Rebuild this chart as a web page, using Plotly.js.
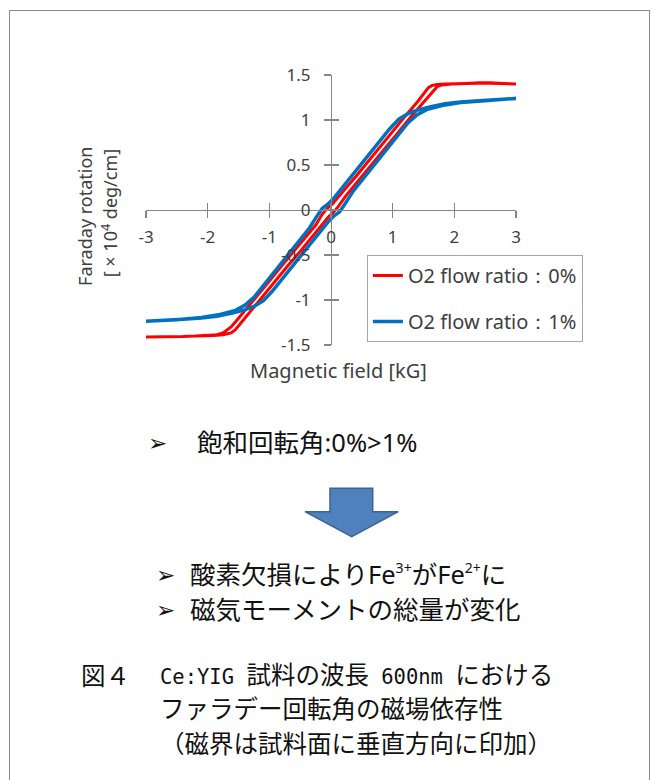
<!DOCTYPE html>
<html><head><meta charset="utf-8">
<script src="https://cdn.plot.ly/plotly-3.0.1.min.js"></script>
<style>
html,body{margin:0;padding:0;background:#fff;}
#wrap{position:relative;width:654px;height:780px;overflow:hidden;background:#fff;}
#chart{position:absolute;left:0;top:0;width:654px;height:780px;}
#over{position:absolute;left:0;top:0;pointer-events:none;}
.t{position:absolute;white-space:nowrap;transform:translateY(-50%);color:#111;font-family:"Noto Sans","Noto Sans CJK JP",sans-serif;line-height:1;}
.cap{font-family:"Noto Sans CJK JP",sans-serif;font-size:24.5px;}
.mono{font-family:"DejaVu Sans Mono","Liberation Mono",monospace;font-size:20.5px;white-space:pre;}
.bul{font-family:"DejaVu Sans",sans-serif;font-size:23px;}
sup{font-size:55%;vertical-align:0.8em;line-height:0;}
</style></head>
<body>
<div id="wrap">
<div id="chart"></div>
<svg id="over" width="654" height="780">
  <rect x="9.5" y="10.5" width="640" height="800" fill="none" stroke="#8a8a8a" stroke-width="1"/>
  <polygon points="330,488.3 372.7,488.3 372.7,511.7 398.3,511.7 351.7,536.7 305,511.7 330,511.7" fill="#4F81BD" stroke="#3B6396" stroke-width="1.5"/>
</svg>
<div class="t bul" style="left:148px;top:443px;">➢</div>
<div class="t" style="left:197px;top:443px;font-size:25.5px;">飽和回転角:0%&gt;1%</div>
<div class="t bul" style="left:156px;top:575px;">➢</div>
<div class="t" style="left:190px;top:575px;font-size:25.5px;">酸素欠損によりFe<sup>3+</sup>がFe<sup>2+</sup>に</div>
<div class="t bul" style="left:156px;top:610px;">➢</div>
<div class="t" style="left:190px;top:610px;font-size:25.5px;">磁気モーメントの総量が変化</div>
<div class="t cap" style="left:81px;top:675px;">図４</div>
<div class="t cap" style="left:160px;top:675px;"><span class="mono">Ce:YIG </span>試料の波長<span class="mono"> 600nm </span>における</div>
<div class="t cap" style="left:160px;top:708px;">ファラデー回転角の磁場依存性</div>
<div class="t cap" style="left:160px;top:743px;">（磁界は試料面に垂直方向に印加）</div>
</div>
<script>
// ---- data ----
const seriesNames = ["O2 flow ratio：0%", "O2 flow ratio：1%"];
const xTicks = [-3, -2, -1, 0, 1, 2, 3];
const xTickText = ["-3", "-2", "-1", "0", "1", "2", "3"];
const yTicks = [-1.5, -1, -0.5, 0, 0.5, 1, 1.5];
const yTickText = ["-1.5", "-1", "-0.5", "0", "0.5", "1", "1.5"];

// O2 0%: descending branch (field +3 -> -3)
const redDownX = [3.00, 2.80, 2.60, 2.40, 2.20, 2.00, 1.85, 1.72, 1.64, 1.58, 1.50, 1.40, 1.20, 1.00, 0.80, 0.60, 0.40, 0.20, 0.10, 0.02, -0.06, -0.14, -0.25, -0.40, -0.60, -0.80, -1.00, -1.20, -1.40, -1.55, -1.62, -1.68, -1.75, -1.85, -2.00, -2.20, -2.40, -2.60, -2.80, -3.00];
const redDownY = [1.40, 1.405, 1.41, 1.41, 1.405, 1.405, 1.40, 1.395, 1.385, 1.36, 1.29, 1.20, 1.04, 0.87, 0.71, 0.54, 0.37, 0.21, 0.125, 0.065, 0.02, -0.045, -0.17, -0.29, -0.46, -0.62, -0.79, -0.96, -1.12, -1.245, -1.30, -1.335, -1.365, -1.385, -1.395, -1.40, -1.405, -1.405, -1.41, -1.41];
// O2 0%: ascending branch (field -3 -> +3)
const redUpX = [-3.00, -2.80, -2.60, -2.40, -2.20, -2.00, -1.90, -1.75, -1.62, -1.55, -1.45, -1.30, -1.10, -0.90, -0.70, -0.50, -0.30, -0.12, -0.04, 0.04, 0.12, 0.25, 0.50, 0.70, 0.90, 1.10, 1.30, 1.50, 1.60, 1.66, 1.72, 1.80, 1.95, 2.20, 2.40, 2.60, 2.80, 3.00];
const redUpY = [-1.41, -1.41, -1.405, -1.405, -1.40, -1.40, -1.395, -1.385, -1.365, -1.33, -1.245, -1.12, -0.955, -0.79, -0.62, -0.46, -0.29, -0.14, -0.075, -0.025, 0.04, 0.165, 0.37, 0.54, 0.71, 0.87, 1.04, 1.20, 1.285, 1.33, 1.37, 1.39, 1.40, 1.405, 1.41, 1.41, 1.405, 1.40];

// O2 1%: descending branch
const blueDownX = [3.00, 2.70, 2.40, 2.10, 1.85, 1.60, 1.40, 1.25, 1.10, 0.95, 0.80, 0.60, 0.40, 0.20, 0.05, -0.05, -0.14, -0.22, -0.35, -0.50, -0.70, -0.90, -1.10, -1.25, -1.40, -1.55, -1.80, -2.10, -2.50, -2.80, -3.00];
const blueDownY = [1.24, 1.23, 1.215, 1.20, 1.18, 1.145, 1.11, 1.07, 1.01, 0.90, 0.77, 0.60, 0.43, 0.265, 0.135, 0.065, 0.02, -0.06, -0.20, -0.33, -0.50, -0.67, -0.84, -0.97, -1.06, -1.115, -1.16, -1.195, -1.22, -1.23, -1.235];
// O2 1%: ascending branch
const blueUpX = [-3.00, -2.70, -2.40, -2.10, -1.85, -1.60, -1.40, -1.25, -1.10, -0.95, -0.80, -0.60, -0.40, -0.20, -0.05, 0.05, 0.14, 0.22, 0.35, 0.50, 0.70, 0.90, 1.10, 1.25, 1.40, 1.55, 1.80, 2.10, 2.50, 2.80, 3.00];
const blueUpY = [-1.235, -1.23, -1.215, -1.20, -1.18, -1.145, -1.11, -1.07, -1.01, -0.90, -0.77, -0.60, -0.43, -0.265, -0.135, -0.065, -0.02, 0.06, 0.20, 0.33, 0.50, 0.67, 0.84, 0.97, 1.06, 1.115, 1.16, 1.195, 1.215, 1.23, 1.24];

// ---- chart ----
const axisColor = "#878787";
const textColor = "#404040";
const latin = "Noto Sans, Open Sans, sans-serif";

const traces = [
  {x: redDownX.concat(redUpX), y: redDownY.concat(redUpY), name: seriesNames[0], legendgroup: "a",
   type: "scatter", mode: "lines", line: {color: "#FF0000", width: 3}},
  {x: blueDownX.concat(blueUpX), y: blueDownY.concat(blueUpY), name: seriesNames[1], legendgroup: "b",
   type: "scatter", mode: "lines", line: {color: "#0070C0", width: 3.5}},
  {x: [], y: [], xaxis: "x2", yaxis: "y2", showlegend: false, hoverinfo: "skip", type: "scatter", mode: "lines"}
];

const baseAxis = {
  showgrid: false, zeroline: false, anchor: "free", position: 0.5,
  linecolor: axisColor, linewidth: 1.3, tickcolor: axisColor, tickwidth: 1.3, ticklen: 7,
  tickmode: "array", fixedrange: true
};

const layout = {
  width: 654, height: 780,
  margin: {l: 146, r: 138, t: 75, b: 435, pad: 0},
  paper_bgcolor: "rgba(0,0,0,0)", plot_bgcolor: "rgba(0,0,0,0)",
  font: {family: latin, color: textColor, size: 17},
  xaxis: Object.assign({}, baseAxis, {range: [-3, 3], tickvals: xTicks, ticktext: xTickText, ticks: "outside",
    showline: true, tickfont: {family: latin, size: 17, color: textColor}, ticklabelstandoff: 4}),
  yaxis: Object.assign({}, baseAxis, {range: [-1.5, 1.5], tickvals: yTicks, ticktext: yTickText, ticks: "outside",
    showline: true, tickfont: {family: latin, size: 17, color: textColor}, ticklabelstandoff: 10}),
  xaxis2: Object.assign({}, baseAxis, {range: [-3, 3], overlaying: "x", tickvals: xTicks, ticks: "inside",
    showline: false, showticklabels: false}),
  yaxis2: Object.assign({}, baseAxis, {range: [-1.5, 1.5], overlaying: "y", tickvals: yTicks, ticks: "inside",
    showline: false, showticklabels: false}),
  showlegend: true,
  legend: {x: 0.597, y: 0.3333, xanchor: "left", yanchor: "top", bgcolor: "#ffffff",
    bordercolor: "#a6a6a6", borderwidth: 1, tracegroupgap: 17,
    font: {family: latin, size: 20, color: textColor}},
  annotations: [
    {text: "Faraday rotation", xref: "paper", yref: "paper", x: -0.165, y: 0.478, textangle: -90,
     showarrow: false, xanchor: "center", yanchor: "middle", font: {family: latin, size: 18, color: textColor}},
    {text: "[ × 10<sup>4</sup> deg/cm]", xref: "paper", yref: "paper", x: -0.0973, y: 0.488, textangle: -90,
     showarrow: false, xanchor: "center", yanchor: "middle", font: {family: latin, size: 18, color: textColor}},
    {text: "Magnetic field [kG]", xref: "paper", yref: "paper", x: 0.519, y: -0.0926,
     showarrow: false, xanchor: "center", yanchor: "middle", font: {family: latin, size: 20, color: textColor}}
  ]
};

Plotly.newPlot("chart", traces, layout, {displayModeBar: false, staticPlot: true});
</script>
</body></html>
